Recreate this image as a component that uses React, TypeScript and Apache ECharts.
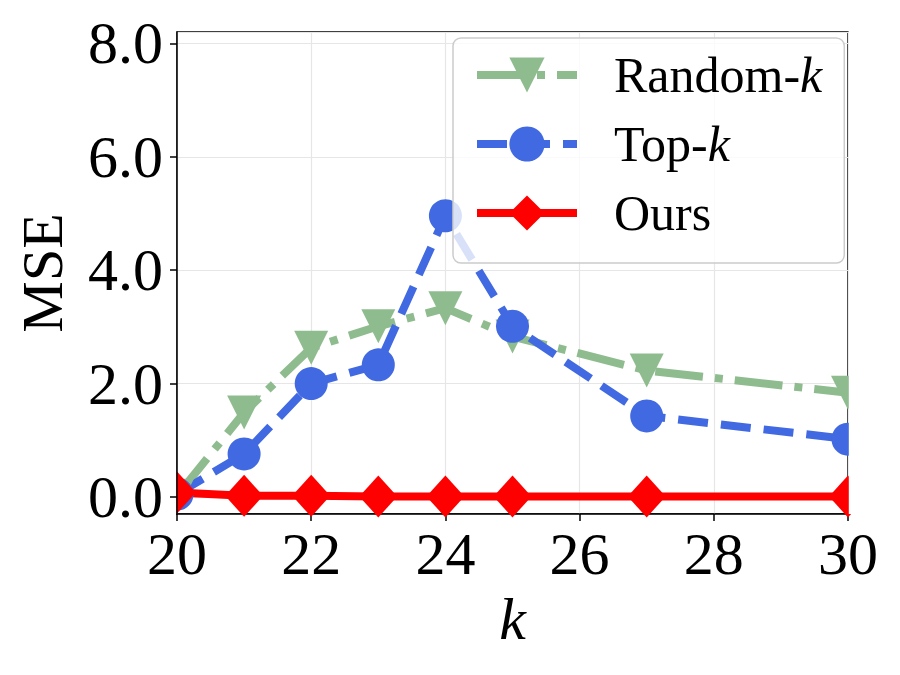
import React, { useEffect, useRef } from "react";
import * as echarts from "echarts";

// k values on the x axis
const kValues = [20, 21, 22, 23, 24, 25, 27, 30];
// MSE per method
const randomK = [0.02, 1.49, 2.63, 3.01, 3.33, 2.83, 2.23, 1.84];
const topK = [0.05, 0.76, 2.0, 2.33, 4.96, 3.01, 1.43, 1.02];
const ours = [0.08, 0.02, 0.02, 0.01, 0.01, 0.01, 0.01, 0.01];

const FONT = "Liberation Serif";
const GREEN = "#8fbc8f";
const BLUE = "#4169e1";
const RED = "#ff0000";
const DASHDOT = [48, 12, 8, 12];
const DASHED = [30, 13];

const pairs = (ys: number[]) => kValues.map((k, i) => [k, ys[i]]);

export default function App() {
  const ref = useRef<HTMLDivElement>(null);

  useEffect(() => {
    if (!ref.current) return;
    const chart = echarts.init(ref.current, undefined, { renderer: "svg" });
    const gridLeft = 177;
    const gridRight = 52;
    const gridTop = 32;
    const gridBottom = 161;
    const W = 900;
    const H = 675;

    const yRange = { min: -0.3, max: 8.2 };
    const axisLineStyle = { color: "#000", width: 1.5 };
    const gridLine = { show: true, lineStyle: { color: "#e6e6e6", width: 1.2 } };

    chart.setOption({
      animation: false,
      backgroundColor: "#ffffff",
      grid: {
        left: gridLeft,
        right: gridRight,
        top: gridTop,
        bottom: gridBottom,
        show: true,
        borderColor: "#000",
        borderWidth: 1.5,
        backgroundColor: "transparent",
      },
      legend: {
        orient: "vertical",
        left: 453,
        top: 38,
        z: 20,
        padding: [12, 22, 25, 20],
        itemWidth: 100,
        itemHeight: 44,
        itemGap: 19,
        backgroundColor: "rgba(255,255,255,0.8)",
        borderColor: "#cccccc",
        borderWidth: 1.5,
        borderRadius: 8,
        textStyle: {
          fontFamily: FONT,
          fontSize: 50,
          lineHeight: 44,
          color: "#000",
          padding: [0, 0, 0, 32],
          rich: {
            n: { fontFamily: FONT, fontSize: 50, lineHeight: 44, color: "#000" },
            i: { fontFamily: FONT, fontSize: 50, lineHeight: 44, fontStyle: "italic", color: "#000" },
          },
        },
        formatter: (name: string) => {
          if (name.endsWith("-k")) return `{n|${name.slice(0, -1)}}{i|k}`;
          return `{n|${name}}`;
        },
        data: [
          { name: "Random-k", lineStyle: { color: GREEN, width: 8, type: DASHDOT } },
          { name: "Top-k", lineStyle: { color: BLUE, width: 8, type: DASHED } },
          { name: "Ours", lineStyle: { color: RED, width: 8, type: "solid" } },
        ],
      },
      xAxis: {
        type: "value",
        min: 20,
        max: 30,
        interval: 2,
        name: "k",
        nameLocation: "middle",
        nameGap: 74,
        nameTextStyle: { fontFamily: FONT, fontSize: 60, fontStyle: "italic", color: "#000" },
        axisLine: { show: true, onZero: false, lineStyle: axisLineStyle },
        axisTick: { show: true, length: 7, lineStyle: axisLineStyle },
        axisLabel: { fontFamily: FONT, fontSize: 60, color: "#000", margin: 10 },
        splitLine: gridLine,
      },
      yAxis: [
        {
          // grid lines only, drawn beneath the series
          type: "value",
          ...yRange,
          position: "left",
          axisLine: { show: false },
          axisTick: { show: false },
          axisLabel: { show: false },
          splitLine: gridLine,
          z: 0,
        },
        {
          // axis line, ticks, labels and title, drawn over the edge bands
          type: "value",
          ...yRange,
          position: "left",
          offset: 0,
          name: "MSE",
          nameLocation: "middle",
          nameGap: 106,
          nameRotate: 90,
          nameTextStyle: { fontFamily: FONT, fontSize: 58, color: "#000" },
          axisLine: { show: true, onZero: false, lineStyle: axisLineStyle },
          axisTick: { show: true, length: 7, lineStyle: axisLineStyle },
          axisLabel: {
            fontFamily: FONT,
            fontSize: 60,
            color: "#000",
            margin: 14,
            showMinLabel: false,
            showMaxLabel: false,
            formatter: (v: number) => v.toFixed(1),
          },
          splitLine: { show: false },
          z: 10,
        },
      ],
      // white bands just outside the plot frame so edge markers look clipped
      graphic: [
        {
          type: "rect",
          z: 5,
          silent: true,
          shape: { x: 158, y: 0, width: gridLeft - 158 - 0.8, height: H - gridBottom },
          style: { fill: "#fff" },
        },
        {
          type: "rect",
          z: 5,
          silent: true,
          shape: { x: W - gridRight + 0.8, y: 0, width: gridRight, height: H - gridBottom },
          style: { fill: "#fff" },
        },
      ],
      series: [
        {
          name: "Random-k",
          type: "line",
          data: pairs(randomK),
          symbol: "triangle",
          symbolRotate: 180,
          symbolSize: 34,
          itemStyle: { color: GREEN },
          lineStyle: { color: GREEN, width: 8, type: DASHDOT, cap: "butt" },
          clip: false,
          z: 2,
        },
        {
          name: "Top-k",
          type: "line",
          data: pairs(topK),
          symbol: "circle",
          symbolSize: 33,
          itemStyle: { color: BLUE },
          lineStyle: { color: BLUE, width: 8, type: DASHED, cap: "butt" },
          clip: false,
          z: 2,
        },
        {
          name: "Ours",
          type: "line",
          data: pairs(ours),
          symbol: "diamond",
          symbolSize: [38, 42],
          itemStyle: { color: RED },
          lineStyle: { color: RED, width: 8, type: "solid" },
          clip: false,
          z: 2,
        },
      ],
    });

    return () => chart.dispose();
  }, []);

  return <div ref={ref} style={{ width: 900, height: 675, margin: -8 }} />;
}
